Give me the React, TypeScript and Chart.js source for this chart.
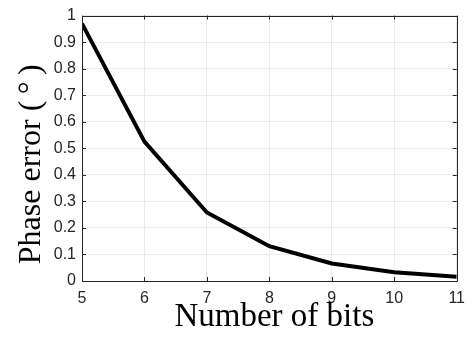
import { useEffect, useRef } from "react";
import { Chart, registerables } from "chart.js";

Chart.register(...registerables);

const bits = [5, 6, 7, 8, 9, 10, 11];
const phaseError = [0.97, 0.525, 0.258, 0.131, 0.066, 0.033, 0.016];
const xTickValues = [5, 6, 7, 8, 9, 10, 11];
const yTickValues = [0, 0.1, 0.2, 0.3, 0.4, 0.5, 0.6, 0.7, 0.8, 0.9, 1];
const xTitle = "Number of bits";
const yTitle = "Phase error (\u2009\u00B0\u2009)";

const boxPlugin = {
  id: "matlabBox",
  afterDatasetsDraw(chart: any) {
    const { ctx, chartArea, scales } = chart;
    const { left, right, top, bottom } = chartArea;
    const xs = scales.x;
    const ys = scales.y;
    ctx.save();
    ctx.strokeStyle = "#262626";
    ctx.lineWidth = 1;
    ctx.beginPath();
    ctx.rect(Math.round(left) + 0.5, Math.round(top) + 0.5, Math.round(right - left), Math.round(bottom - top));
    ctx.stroke();
    const tl = 4;
    ctx.beginPath();
    for (const v of xTickValues) {
      const px = Math.round(xs.getPixelForValue(v)) + 0.5;
      ctx.moveTo(px, bottom);
      ctx.lineTo(px, bottom - tl);
      ctx.moveTo(px, top);
      ctx.lineTo(px, top + tl);
    }
    for (const v of yTickValues) {
      const py = Math.round(ys.getPixelForValue(v)) + 0.5;
      ctx.moveTo(left, py);
      ctx.lineTo(left + tl, py);
      ctx.moveTo(right, py);
      ctx.lineTo(right - tl, py);
    }
    ctx.stroke();
    ctx.restore();
  },
  afterDraw(chart: any) {
    const { ctx, chartArea } = chart;
    ctx.save();
    ctx.fillStyle = "#000";
    ctx.font = "33px 'Liberation Serif'";
    ctx.textAlign = "center";
    ctx.textBaseline = "alphabetic";
    ctx.fillText(xTitle, (chartArea.left + chartArea.right) / 2 + 5, 326);
    ctx.font = "32px 'Liberation Serif'";
    ctx.translate(40, (chartArea.top + chartArea.bottom) / 2 + 16);
    ctx.rotate(-Math.PI / 2);
    ctx.fillText(yTitle, 0, 0);
    ctx.restore();
  },
};

export default function App() {
  const ref = useRef<HTMLCanvasElement | null>(null);
  useEffect(() => {
    document.body.style.margin = "0";
    const canvas = ref.current;
    if (!canvas) return;
    const chart = new Chart(canvas, {
      type: "line",
      data: {
        datasets: [
          {
            data: bits.map((b, i) => ({ x: b, y: phaseError[i] })),
            borderColor: "#000000",
            borderWidth: 4,
            pointRadius: 0,
            tension: 0,
            fill: false,
          },
        ],
      },
      options: {
        animation: false,
        responsive: true,
        maintainAspectRatio: false,
        layout: { padding: { top: 15, right: 12, left: 0, bottom: 0 } },
        plugins: { legend: { display: false }, tooltip: { enabled: false } },
        scales: {
          x: {
            type: "linear",
            min: 5,
            max: 11,
            afterFit: (s: any) => {
              s.height = 57;
            },
            afterBuildTicks: (s: any) => {
              s.ticks = xTickValues.map((v) => ({ value: v }));
            },
            ticks: {
              color: "#262626",
              font: { family: "'Liberation Sans', Arial", size: 16 },
              padding: 8,
              maxRotation: 0,
              autoSkip: false,
            },
            grid: { color: "#ebebeb", drawTicks: false, lineWidth: 1 },
            border: { display: false },
          },
          y: {
            type: "linear",
            min: 0,
            max: 1,
            afterFit: (s: any) => {
              s.width = 82;
            },
            afterBuildTicks: (s: any) => {
              s.ticks = yTickValues.map((v) => ({ value: v }));
            },
            ticks: {
              color: "#262626",
              font: { family: "'Liberation Sans', Arial", size: 16 },
              padding: 6,
              autoSkip: false,
              callback: (v: any) => String(Number(v)),
            },
            grid: { color: "#ebebeb", drawTicks: false, lineWidth: 1 },
            border: { display: false },
          },
        },
      },
      plugins: [boxPlugin],
    });
    return () => chart.destroy();
  }, []);
  return (
    <div style={{ position: "fixed", left: 0, top: 0, width: 473, height: 338, background: "#fff" }}>
      <canvas ref={ref} />
    </div>
  );
}
